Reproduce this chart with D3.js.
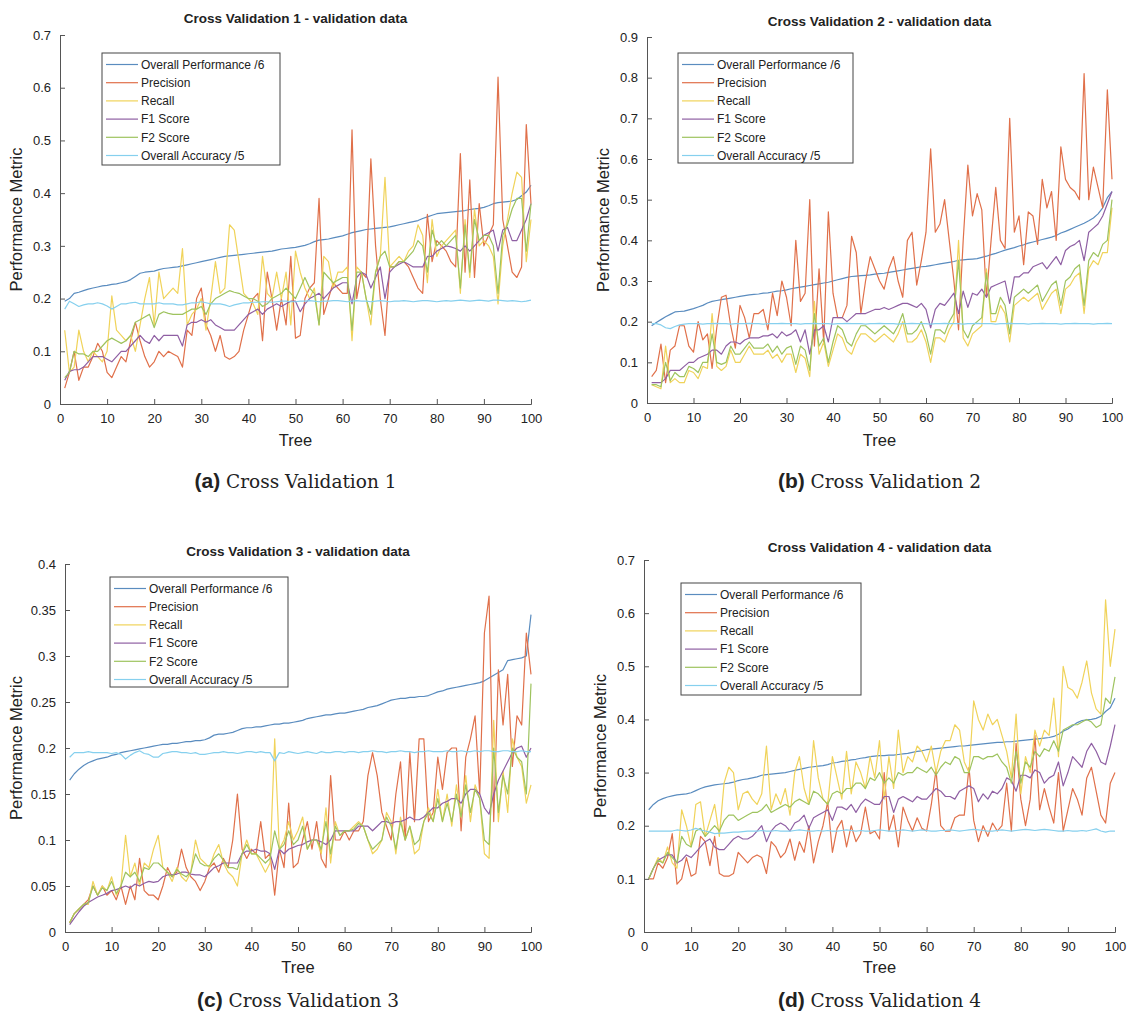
<!DOCTYPE html>
<html>
<head>
<meta charset="utf-8">
<script src="https://cdn.jsdelivr.net/npm/d3@7"></script>
<style>
  body { margin: 0; background: #fff; }
  text { font-family: "Liberation Sans", Arial, Helvetica, sans-serif; fill: #222; }
</style>
</head>
<body>
<div id="chart"></div>
<script>
/* tree index on the x axis, legend names and tick labels */
const trees = d3.range(1, 101);
const seriesNames = ["Overall Performance /6", "Precision", "Recall", "F1 Score", "F2 Score", "Overall Accuracy /5"];
const seriesColors = ["#5a8cbf", "#e0704a", "#f0d35a", "#8f5fa3", "#9ec35e", "#86d0ee"];
const xTicks = [0, 10, 20, 30, 40, 50, 60, 70, 80, 90, 100];
const yTicks1 = [0, 0.1, 0.2, 0.3, 0.4, 0.5, 0.6, 0.7];
const yTicks2 = [0, 0.1, 0.2, 0.3, 0.4, 0.5, 0.6, 0.7, 0.8, 0.9];
const yTicks3 = [0, 0.05, 0.1, 0.15, 0.2, 0.25, 0.3, 0.35, 0.4];
const yTicks4 = [0, 0.1, 0.2, 0.3, 0.4, 0.5, 0.6, 0.7];

/* ---- Cross Validation 1 ---- */
const cv1Perf = [0.195,0.200,0.210,0.212,0.215,0.218,0.220,0.222,0.224,0.225,
  0.227,0.228,0.230,0.232,0.236,0.242,0.248,0.250,0.251,0.252,
  0.255,0.257,0.258,0.259,0.260,0.262,0.264,0.266,0.268,0.270,
  0.272,0.274,0.276,0.278,0.280,0.281,0.282,0.283,0.284,0.285,
  0.286,0.287,0.288,0.289,0.290,0.292,0.294,0.295,0.296,0.297,
  0.299,0.301,0.304,0.308,0.311,0.312,0.313,0.315,0.317,0.319,
  0.322,0.325,0.327,0.329,0.331,0.332,0.333,0.334,0.335,0.336,
  0.338,0.340,0.342,0.344,0.346,0.348,0.352,0.355,0.358,0.361,
  0.362,0.363,0.364,0.365,0.366,0.367,0.369,0.370,0.371,0.373,
  0.376,0.380,0.382,0.383,0.384,0.385,0.388,0.395,0.402,0.415];
const cv1Prec = [0.03,0.06,0.10,0.045,0.07,0.07,0.09,0.115,0.10,0.06,
  0.05,0.07,0.09,0.08,0.12,0.155,0.12,0.09,0.07,0.08,
  0.10,0.09,0.10,0.095,0.09,0.07,0.14,0.13,0.20,0.22,
  0.15,0.13,0.10,0.13,0.09,0.085,0.09,0.10,0.14,0.17,
  0.20,0.21,0.12,0.25,0.20,0.14,0.20,0.15,0.28,0.125,
  0.13,0.20,0.22,0.23,0.39,0.17,0.20,0.23,0.22,0.21,
  0.21,0.52,0.20,0.25,0.24,0.465,0.30,0.20,0.13,0.26,
  0.26,0.27,0.27,0.26,0.24,0.22,0.21,0.36,0.27,0.31,
  0.30,0.29,0.27,0.26,0.475,0.25,0.425,0.24,0.38,0.30,
  0.32,0.34,0.62,0.35,0.30,0.25,0.24,0.26,0.53,0.38];
const cv1Rec = [0.14,0.06,0.07,0.14,0.10,0.08,0.10,0.09,0.08,0.10,
  0.205,0.14,0.13,0.12,0.13,0.10,0.15,0.20,0.24,0.15,
  0.25,0.20,0.21,0.22,0.21,0.295,0.15,0.17,0.18,0.20,
  0.14,0.20,0.27,0.21,0.22,0.34,0.33,0.27,0.21,0.20,
  0.19,0.17,0.28,0.21,0.20,0.25,0.20,0.25,0.15,0.29,
  0.25,0.22,0.20,0.22,0.15,0.28,0.27,0.22,0.25,0.25,
  0.26,0.12,0.26,0.25,0.20,0.15,0.25,0.28,0.43,0.26,
  0.27,0.28,0.27,0.29,0.30,0.34,0.32,0.23,0.35,0.28,
  0.30,0.31,0.32,0.33,0.21,0.35,0.24,0.37,0.30,0.31,
  0.30,0.28,0.19,0.30,0.35,0.40,0.44,0.43,0.27,0.35];
const cv1F1 = [0.045,0.062,0.065,0.065,0.07,0.08,0.09,0.09,0.09,0.085,
  0.08,0.09,0.10,0.10,0.11,0.12,0.13,0.12,0.115,0.13,
  0.12,0.13,0.13,0.13,0.13,0.11,0.15,0.155,0.155,0.16,
  0.155,0.16,0.15,0.145,0.14,0.14,0.14,0.15,0.16,0.17,
  0.175,0.18,0.17,0.18,0.185,0.19,0.185,0.19,0.195,0.195,
  0.175,0.19,0.20,0.205,0.21,0.20,0.21,0.22,0.225,0.23,
  0.23,0.19,0.24,0.25,0.245,0.22,0.24,0.26,0.20,0.25,
  0.26,0.265,0.27,0.265,0.26,0.26,0.26,0.28,0.28,0.29,
  0.295,0.30,0.298,0.295,0.29,0.30,0.29,0.30,0.31,0.32,
  0.325,0.33,0.29,0.33,0.335,0.31,0.31,0.33,0.35,0.38];
const cv1F2 = [0.05,0.06,0.10,0.095,0.095,0.09,0.10,0.10,0.11,0.12,
  0.125,0.12,0.115,0.12,0.13,0.155,0.16,0.165,0.17,0.145,
  0.17,0.175,0.172,0.17,0.17,0.17,0.175,0.18,0.18,0.185,
  0.17,0.19,0.20,0.205,0.21,0.215,0.212,0.21,0.205,0.20,
  0.20,0.195,0.185,0.19,0.20,0.205,0.21,0.22,0.21,0.20,
  0.22,0.24,0.22,0.21,0.15,0.25,0.24,0.23,0.235,0.24,
  0.24,0.14,0.25,0.25,0.20,0.17,0.25,0.28,0.29,0.26,
  0.26,0.27,0.27,0.28,0.29,0.31,0.30,0.25,0.33,0.30,
  0.31,0.30,0.31,0.32,0.22,0.34,0.25,0.35,0.31,0.32,
  0.32,0.30,0.21,0.32,0.34,0.37,0.39,0.39,0.29,0.38];
const cv1Acc = [0.180,0.195,0.190,0.185,0.188,0.190,0.190,0.192,0.190,0.186,
  0.180,0.185,0.190,0.190,0.192,0.193,0.190,0.190,0.190,0.190,
  0.192,0.190,0.190,0.190,0.188,0.188,0.190,0.192,0.192,0.194,
  0.192,0.190,0.190,0.190,0.188,0.185,0.188,0.190,0.192,0.192,
  0.193,0.193,0.194,0.194,0.193,0.194,0.195,0.195,0.194,0.194,
  0.195,0.195,0.196,0.195,0.194,0.195,0.195,0.196,0.196,0.195,
  0.194,0.195,0.196,0.195,0.195,0.194,0.195,0.196,0.195,0.194,
  0.195,0.195,0.196,0.195,0.194,0.195,0.196,0.196,0.195,0.194,
  0.195,0.196,0.195,0.196,0.197,0.196,0.195,0.196,0.197,0.196,
  0.195,0.197,0.197,0.196,0.195,0.196,0.195,0.194,0.195,0.197];

/* ---- Cross Validation 2 ---- */
const cv2Perf = [0.190,0.198,0.205,0.212,0.218,0.224,0.225,0.226,0.229,0.232,
  0.236,0.240,0.246,0.250,0.252,0.254,0.256,0.258,0.260,0.262,
  0.264,0.266,0.267,0.268,0.270,0.271,0.273,0.275,0.276,0.278,
  0.281,0.283,0.285,0.287,0.289,0.291,0.293,0.295,0.297,0.300,
  0.303,0.306,0.309,0.311,0.312,0.313,0.314,0.315,0.317,0.318,
  0.319,0.321,0.323,0.325,0.327,0.329,0.331,0.333,0.335,0.336,
  0.338,0.340,0.342,0.344,0.346,0.348,0.351,0.352,0.353,0.354,
  0.355,0.358,0.361,0.365,0.368,0.372,0.376,0.379,0.382,0.386,
  0.389,0.393,0.396,0.399,0.402,0.405,0.408,0.412,0.418,0.422,
  0.427,0.432,0.437,0.442,0.448,0.455,0.465,0.480,0.505,0.520];
const cv2Prec = [0.065,0.08,0.145,0.05,0.13,0.14,0.19,0.19,0.14,0.125,
  0.20,0.155,0.17,0.085,0.185,0.26,0.265,0.19,0.135,0.24,
  0.21,0.16,0.22,0.22,0.23,0.18,0.27,0.215,0.30,0.26,
  0.19,0.40,0.25,0.27,0.50,0.14,0.33,0.15,0.47,0.27,
  0.21,0.21,0.24,0.41,0.37,0.22,0.30,0.36,0.33,0.30,
  0.28,0.33,0.36,0.30,0.26,0.40,0.42,0.29,0.35,0.42,
  0.625,0.42,0.44,0.50,0.40,0.30,0.18,0.40,0.585,0.46,
  0.515,0.475,0.26,0.40,0.53,0.40,0.38,0.70,0.42,0.46,
  0.34,0.47,0.46,0.39,0.55,0.48,0.52,0.40,0.63,0.55,
  0.53,0.52,0.50,0.81,0.50,0.58,0.53,0.48,0.77,0.55];
const cv2Rec = [0.045,0.04,0.035,0.14,0.05,0.06,0.05,0.05,0.08,0.075,
  0.06,0.09,0.085,0.22,0.09,0.08,0.09,0.13,0.10,0.10,
  0.12,0.14,0.12,0.12,0.12,0.13,0.11,0.12,0.10,0.12,
  0.12,0.075,0.12,0.11,0.065,0.25,0.12,0.15,0.09,0.13,
  0.17,0.16,0.13,0.12,0.15,0.17,0.17,0.16,0.15,0.16,
  0.17,0.16,0.15,0.17,0.20,0.15,0.15,0.16,0.18,0.15,
  0.10,0.16,0.16,0.15,0.18,0.20,0.40,0.16,0.14,0.17,
  0.18,0.19,0.33,0.20,0.20,0.24,0.22,0.15,0.24,0.25,
  0.26,0.25,0.26,0.27,0.23,0.25,0.27,0.28,0.22,0.28,
  0.29,0.31,0.32,0.22,0.33,0.35,0.34,0.37,0.37,0.48];
const cv2F1 = [0.05,0.05,0.05,0.06,0.08,0.08,0.08,0.09,0.10,0.10,
  0.11,0.115,0.12,0.13,0.13,0.12,0.14,0.15,0.15,0.145,
  0.155,0.16,0.16,0.16,0.165,0.165,0.17,0.16,0.175,0.165,
  0.17,0.18,0.15,0.18,0.12,0.18,0.18,0.19,0.15,0.21,
  0.21,0.21,0.20,0.21,0.22,0.22,0.22,0.225,0.23,0.23,
  0.235,0.23,0.235,0.24,0.245,0.245,0.24,0.235,0.245,0.23,
  0.185,0.23,0.245,0.24,0.255,0.27,0.22,0.275,0.235,0.27,
  0.265,0.28,0.26,0.285,0.29,0.295,0.30,0.245,0.31,0.31,
  0.32,0.32,0.335,0.34,0.345,0.33,0.345,0.36,0.34,0.375,
  0.385,0.39,0.40,0.35,0.42,0.43,0.44,0.46,0.49,0.52];
const cv2F2 = [0.045,0.045,0.04,0.10,0.055,0.075,0.065,0.065,0.09,0.085,
  0.075,0.10,0.10,0.17,0.10,0.095,0.10,0.14,0.12,0.12,
  0.135,0.15,0.135,0.135,0.135,0.145,0.125,0.14,0.12,0.135,
  0.14,0.095,0.14,0.13,0.08,0.22,0.14,0.16,0.10,0.15,
  0.19,0.18,0.15,0.14,0.17,0.19,0.19,0.18,0.17,0.18,
  0.19,0.18,0.17,0.19,0.22,0.17,0.17,0.18,0.20,0.17,
  0.12,0.18,0.18,0.17,0.20,0.22,0.35,0.18,0.16,0.19,
  0.20,0.21,0.32,0.22,0.22,0.26,0.24,0.17,0.26,0.27,
  0.28,0.27,0.28,0.29,0.25,0.27,0.29,0.30,0.24,0.30,
  0.31,0.33,0.34,0.24,0.35,0.37,0.36,0.39,0.40,0.50];
const cv2Acc = [0.195,0.195,0.192,0.185,0.183,0.188,0.192,0.194,0.195,0.195,
  0.195,0.194,0.195,0.195,0.196,0.195,0.195,0.194,0.195,0.195,
  0.195,0.196,0.195,0.195,0.194,0.195,0.195,0.195,0.196,0.195,
  0.195,0.195,0.194,0.195,0.195,0.196,0.195,0.195,0.195,0.194,
  0.195,0.195,0.196,0.195,0.195,0.195,0.194,0.195,0.195,0.196,
  0.195,0.195,0.195,0.194,0.195,0.195,0.196,0.195,0.195,0.195,
  0.194,0.195,0.195,0.196,0.195,0.195,0.195,0.194,0.195,0.195,
  0.196,0.195,0.195,0.195,0.194,0.195,0.195,0.196,0.195,0.195,
  0.195,0.194,0.195,0.195,0.196,0.195,0.195,0.195,0.194,0.195,
  0.195,0.196,0.195,0.195,0.195,0.194,0.195,0.195,0.196,0.195];

/* ---- Cross Validation 3 ---- */
const cv3Perf = [0.165,0.172,0.177,0.181,0.184,0.186,0.188,0.189,0.190,0.192,
  0.193,0.195,0.196,0.197,0.198,0.199,0.200,0.201,0.202,0.203,
  0.204,0.204,0.205,0.205,0.206,0.207,0.207,0.208,0.208,0.209,
  0.211,0.214,0.215,0.215,0.216,0.217,0.219,0.221,0.222,0.222,
  0.223,0.223,0.224,0.225,0.226,0.226,0.227,0.227,0.228,0.229,
  0.230,0.232,0.233,0.234,0.235,0.236,0.236,0.237,0.238,0.238,
  0.239,0.240,0.241,0.242,0.244,0.245,0.246,0.248,0.250,0.252,
  0.253,0.254,0.254,0.255,0.255,0.256,0.256,0.257,0.259,0.261,
  0.262,0.264,0.265,0.266,0.267,0.268,0.269,0.270,0.271,0.273,
  0.276,0.279,0.282,0.285,0.295,0.296,0.297,0.298,0.300,0.345];
const cv3Prec = [0.01,0.02,0.025,0.03,0.035,0.05,0.04,0.05,0.04,0.045,
  0.035,0.05,0.03,0.05,0.035,0.08,0.045,0.04,0.04,0.035,
  0.05,0.07,0.06,0.065,0.09,0.07,0.06,0.055,0.045,0.055,
  0.07,0.075,0.065,0.08,0.07,0.10,0.15,0.09,0.08,0.09,
  0.085,0.12,0.08,0.085,0.04,0.09,0.07,0.14,0.07,0.075,
  0.10,0.12,0.09,0.12,0.08,0.07,0.17,0.10,0.10,0.11,
  0.10,0.11,0.11,0.12,0.17,0.195,0.17,0.13,0.115,0.10,
  0.15,0.185,0.10,0.195,0.12,0.21,0.21,0.12,0.13,0.19,
  0.155,0.195,0.20,0.20,0.11,0.19,0.21,0.235,0.15,0.325,
  0.365,0.12,0.285,0.225,0.28,0.18,0.235,0.225,0.325,0.28];
const cv3Rec = [0.01,0.02,0.025,0.03,0.03,0.055,0.04,0.05,0.045,0.06,
  0.04,0.05,0.105,0.06,0.075,0.05,0.075,0.07,0.09,0.105,
  0.07,0.065,0.055,0.07,0.06,0.055,0.065,0.10,0.08,0.075,
  0.07,0.085,0.095,0.075,0.065,0.06,0.05,0.085,0.10,0.085,
  0.085,0.075,0.065,0.075,0.21,0.09,0.10,0.12,0.10,0.11,
  0.125,0.09,0.10,0.10,0.085,0.135,0.075,0.12,0.105,0.11,
  0.11,0.115,0.12,0.115,0.10,0.085,0.09,0.10,0.13,0.12,
  0.085,0.125,0.10,0.115,0.085,0.09,0.12,0.135,0.12,0.155,
  0.12,0.15,0.115,0.16,0.125,0.17,0.12,0.16,0.145,0.085,
  0.08,0.23,0.12,0.175,0.13,0.21,0.19,0.18,0.14,0.16];
const cv3F1 = [0.008,0.015,0.022,0.028,0.032,0.035,0.038,0.040,0.042,0.045,
  0.046,0.048,0.050,0.048,0.052,0.050,0.053,0.055,0.054,0.055,
  0.060,0.062,0.062,0.063,0.065,0.065,0.063,0.062,0.062,0.060,
  0.065,0.070,0.072,0.075,0.075,0.075,0.075,0.085,0.088,0.088,
  0.090,0.088,0.088,0.085,0.068,0.090,0.085,0.090,0.092,0.094,
  0.095,0.098,0.100,0.100,0.098,0.095,0.100,0.110,0.110,0.110,
  0.110,0.110,0.115,0.115,0.115,0.110,0.115,0.120,0.120,0.118,
  0.120,0.120,0.122,0.125,0.122,0.122,0.125,0.130,0.135,0.135,
  0.140,0.142,0.145,0.145,0.140,0.150,0.155,0.155,0.150,0.135,
  0.128,0.150,0.165,0.175,0.185,0.195,0.200,0.202,0.190,0.200];
const cv3F2 = [0.01,0.02,0.025,0.03,0.032,0.05,0.04,0.048,0.045,0.055,
  0.042,0.05,0.065,0.06,0.065,0.055,0.07,0.068,0.075,0.075,
  0.07,0.065,0.06,0.068,0.063,0.06,0.065,0.085,0.075,0.072,
  0.072,0.08,0.085,0.078,0.07,0.07,0.068,0.085,0.095,0.085,
  0.085,0.08,0.075,0.08,0.11,0.09,0.095,0.11,0.095,0.10,
  0.115,0.09,0.10,0.10,0.09,0.12,0.085,0.115,0.105,0.11,
  0.11,0.112,0.118,0.115,0.10,0.09,0.095,0.10,0.125,0.115,
  0.09,0.12,0.10,0.115,0.095,0.10,0.12,0.13,0.12,0.145,
  0.12,0.14,0.12,0.15,0.125,0.16,0.13,0.155,0.145,0.10,
  0.095,0.20,0.13,0.17,0.15,0.20,0.19,0.185,0.15,0.27];
const cv3Acc = [0.190,0.195,0.195,0.195,0.196,0.195,0.195,0.195,0.195,0.194,
  0.195,0.193,0.188,0.192,0.195,0.197,0.194,0.193,0.190,0.190,
  0.194,0.195,0.196,0.196,0.195,0.195,0.194,0.195,0.193,0.193,
  0.194,0.195,0.195,0.196,0.195,0.195,0.194,0.195,0.196,0.196,
  0.195,0.196,0.195,0.195,0.186,0.195,0.194,0.196,0.195,0.194,
  0.195,0.196,0.195,0.194,0.196,0.195,0.195,0.196,0.196,0.195,
  0.196,0.196,0.195,0.196,0.196,0.197,0.196,0.196,0.195,0.196,
  0.196,0.197,0.196,0.196,0.195,0.196,0.196,0.197,0.196,0.196,
  0.196,0.197,0.196,0.196,0.197,0.196,0.196,0.197,0.196,0.197,
  0.197,0.196,0.196,0.197,0.197,0.196,0.196,0.197,0.196,0.196];

/* ---- Cross Validation 4 ---- */
const cv4Perf = [0.230,0.240,0.247,0.251,0.254,0.256,0.258,0.259,0.260,0.262,
  0.266,0.270,0.273,0.275,0.277,0.278,0.279,0.280,0.282,0.285,
  0.287,0.288,0.290,0.292,0.295,0.296,0.297,0.298,0.299,0.300,
  0.302,0.304,0.306,0.308,0.310,0.311,0.312,0.313,0.315,0.318,
  0.319,0.321,0.322,0.324,0.325,0.327,0.328,0.330,0.331,0.332,
  0.332,0.333,0.333,0.334,0.335,0.336,0.338,0.340,0.341,0.343,
  0.344,0.345,0.346,0.347,0.348,0.349,0.350,0.350,0.351,0.352,
  0.353,0.354,0.355,0.356,0.357,0.357,0.358,0.358,0.359,0.360,
  0.361,0.362,0.363,0.364,0.365,0.366,0.368,0.372,0.378,0.382,
  0.388,0.394,0.398,0.399,0.400,0.402,0.406,0.415,0.422,0.440];
const cv4Prec = [0.10,0.10,0.13,0.12,0.14,0.185,0.09,0.10,0.14,0.105,
  0.11,0.18,0.17,0.125,0.18,0.11,0.105,0.105,0.11,0.15,
  0.14,0.13,0.14,0.145,0.14,0.11,0.17,0.16,0.14,0.15,
  0.175,0.135,0.17,0.15,0.20,0.13,0.17,0.20,0.245,0.15,
  0.195,0.21,0.16,0.20,0.17,0.185,0.235,0.185,0.19,0.175,
  0.30,0.19,0.22,0.16,0.235,0.21,0.19,0.215,0.195,0.19,
  0.24,0.305,0.20,0.19,0.19,0.215,0.22,0.22,0.31,0.21,
  0.17,0.20,0.18,0.205,0.19,0.20,0.28,0.19,0.355,0.25,
  0.20,0.25,0.37,0.23,0.27,0.235,0.205,0.30,0.19,0.23,
  0.27,0.25,0.22,0.29,0.31,0.265,0.22,0.205,0.28,0.30];
const cv4Rec = [0.10,0.12,0.14,0.13,0.16,0.13,0.12,0.23,0.20,0.16,
  0.24,0.245,0.18,0.21,0.24,0.18,0.28,0.31,0.30,0.23,
  0.26,0.265,0.25,0.24,0.26,0.35,0.23,0.26,0.24,0.27,
  0.22,0.30,0.33,0.27,0.24,0.36,0.29,0.25,0.24,0.33,
  0.29,0.25,0.34,0.26,0.32,0.30,0.27,0.33,0.29,0.36,
  0.25,0.33,0.27,0.38,0.30,0.33,0.32,0.35,0.34,0.32,
  0.35,0.30,0.34,0.36,0.36,0.39,0.38,0.32,0.30,0.435,
  0.40,0.38,0.41,0.39,0.40,0.37,0.34,0.29,0.41,0.26,
  0.33,0.30,0.38,0.35,0.38,0.37,0.44,0.33,0.50,0.46,
  0.455,0.44,0.47,0.51,0.45,0.42,0.41,0.625,0.50,0.57];
const cv4F1 = [0.10,0.12,0.135,0.14,0.145,0.145,0.13,0.135,0.145,0.14,
  0.15,0.16,0.17,0.175,0.16,0.155,0.155,0.165,0.175,0.18,
  0.175,0.175,0.18,0.19,0.20,0.17,0.19,0.20,0.205,0.20,
  0.19,0.205,0.21,0.22,0.195,0.215,0.22,0.225,0.23,0.21,
  0.235,0.235,0.23,0.24,0.225,0.24,0.25,0.245,0.24,0.24,
  0.255,0.255,0.225,0.25,0.255,0.25,0.245,0.255,0.25,0.25,
  0.26,0.27,0.265,0.255,0.255,0.25,0.265,0.27,0.275,0.27,
  0.245,0.26,0.25,0.265,0.26,0.27,0.29,0.285,0.265,0.295,
  0.295,0.29,0.305,0.30,0.28,0.29,0.295,0.32,0.275,0.30,
  0.33,0.32,0.31,0.34,0.355,0.34,0.32,0.315,0.35,0.39];
const cv4F2 = [0.10,0.12,0.135,0.13,0.15,0.14,0.13,0.18,0.165,0.16,
  0.19,0.195,0.18,0.19,0.20,0.19,0.21,0.22,0.22,0.21,
  0.215,0.22,0.225,0.225,0.23,0.24,0.225,0.23,0.235,0.24,
  0.235,0.245,0.25,0.245,0.24,0.265,0.26,0.25,0.24,0.26,
  0.265,0.26,0.27,0.27,0.28,0.28,0.27,0.29,0.285,0.30,
  0.28,0.29,0.28,0.30,0.295,0.30,0.30,0.31,0.305,0.30,
  0.31,0.295,0.31,0.32,0.315,0.33,0.325,0.30,0.30,0.33,
  0.33,0.325,0.33,0.33,0.335,0.32,0.31,0.28,0.34,0.28,
  0.32,0.31,0.34,0.33,0.345,0.34,0.36,0.34,0.38,0.385,
  0.39,0.39,0.395,0.40,0.395,0.385,0.39,0.44,0.43,0.48];
const cv4Acc = [0.190,0.190,0.190,0.190,0.190,0.190,0.192,0.191,0.190,0.192,
  0.195,0.192,0.190,0.188,0.185,0.186,0.186,0.187,0.188,0.188,
  0.189,0.190,0.190,0.190,0.191,0.190,0.190,0.191,0.190,0.190,
  0.190,0.191,0.192,0.191,0.190,0.190,0.191,0.190,0.191,0.190,
  0.190,0.191,0.192,0.191,0.190,0.191,0.190,0.190,0.191,0.192,
  0.191,0.190,0.190,0.191,0.192,0.191,0.190,0.191,0.192,0.191,
  0.190,0.190,0.191,0.191,0.192,0.191,0.190,0.191,0.192,0.193,
  0.192,0.191,0.190,0.190,0.191,0.192,0.191,0.190,0.191,0.192,
  0.193,0.192,0.191,0.192,0.193,0.192,0.191,0.190,0.190,0.191,
  0.190,0.190,0.191,0.190,0.192,0.194,0.190,0.188,0.190,0.190];

/* panel layout (pixel boxes of each axes) */
const panels = [
  { tag: "(a)", caption: "Cross Validation 1", title: "Cross Validation 1 - validation data",
    yMax: 0.7, yTicks: yTicks1, series: [cv1Perf, cv1Prec, cv1Rec, cv1F1, cv1F2, cv1Acc],
    left: 60, right: 531, top: 35, bottom: 404, titleY: 23, yLabelX: 22, xLabelY: 446, capY: 488,
    leg: { x: 102, y: 53, w: 178, h: 112 } },
  { tag: "(b)", caption: "Cross Validation 2", title: "Cross Validation 2 - validation data",
    yMax: 0.9, yTicks: yTicks2, series: [cv2Perf, cv2Prec, cv2Rec, cv2F1, cv2F2, cv2Acc],
    left: 647, right: 1112, top: 37, bottom: 403, titleY: 26, yLabelX: 609, xLabelY: 446, capY: 488,
    leg: { x: 678, y: 53, w: 175, h: 110 } },
  { tag: "(c)", caption: "Cross Validation 3", title: "Cross Validation 3 - validation data",
    yMax: 0.4, yTicks: yTicks3, series: [cv3Perf, cv3Prec, cv3Rec, cv3F1, cv3F2, cv3Acc],
    left: 65, right: 531, top: 564, bottom: 932, titleY: 556, yLabelX: 22, xLabelY: 973, capY: 1007,
    leg: { x: 110, y: 577, w: 178, h: 110 } },
  { tag: "(d)", caption: "Cross Validation 4", title: "Cross Validation 4 - validation data",
    yMax: 0.7, yTicks: yTicks4, series: [cv4Perf, cv4Prec, cv4Rec, cv4F1, cv4F2, cv4Acc],
    left: 644, right: 1115, top: 560, bottom: 932, titleY: 552, yLabelX: 606, xLabelY: 973, capY: 1007,
    leg: { x: 681, y: 583, w: 180, h: 112 } }
];

const svg = d3.select("#chart").append("svg")
  .attr("width", 1129).attr("height", 1021)
  .style("background", "#fff");

const axisColor = "#555";

panels.forEach(function(p) {
  const x = d3.scaleLinear().domain([0, 100]).range([p.left, p.right]);
  const y = d3.scaleLinear().domain([0, p.yMax]).range([p.bottom, p.top]);
  const g = svg.append("g");

  /* lines, drawn in MATLAB plot order */
  const line = d3.line().x((d, i) => x(trees[i])).y(d => y(d));
  p.series.forEach(function(vals, k) {
    g.append("path")
      .attr("d", line(vals))
      .attr("fill", "none")
      .attr("stroke", seriesColors[k])
      .attr("stroke-width", 1.2)
      .attr("stroke-linejoin", "round");
  });

  /* axes with inward ticks */
  const xAxis = d3.axisBottom(x).tickValues(xTicks).tickSize(-5).tickPadding(10).tickFormat(d3.format("d"));
  const yAxis = d3.axisLeft(y).tickValues(p.yTicks).tickSize(-5).tickPadding(9).tickFormat(d3.format("~g"));
  const gx = g.append("g").attr("transform", `translate(0,${p.bottom})`).call(xAxis);
  const gy = g.append("g").attr("transform", `translate(${p.left},0)`).call(yAxis);
  [gx, gy].forEach(function(a) {
    a.select(".domain").attr("stroke", axisColor);
    a.selectAll(".tick line").attr("stroke", axisColor);
    a.selectAll(".tick text").style("font-size", "13px").attr("fill", "#222");
  });

  /* title and axis labels */
  g.append("text").attr("x", (p.left + p.right) / 2).attr("y", p.titleY)
    .attr("text-anchor", "middle").style("font-size", "13.5px").style("font-weight", "bold")
    .text(p.title);
  g.append("text").attr("x", (p.left + p.right) / 2).attr("y", p.xLabelY)
    .attr("text-anchor", "middle").style("font-size", "16.5px").text("Tree");
  g.append("text")
    .attr("transform", `translate(${p.yLabelX},${(p.top + p.bottom) / 2}) rotate(-90)`)
    .attr("text-anchor", "middle").style("font-size", "16.5px").text("Performance Metric");

  /* legend */
  const lg = g.append("g").attr("transform", `translate(${p.leg.x},${p.leg.y})`);
  lg.append("rect").attr("width", p.leg.w).attr("height", p.leg.h)
    .attr("fill", "#fff").attr("stroke", "#444").attr("stroke-width", 1);
  seriesNames.forEach(function(name, k) {
    const cy = 11.5 + k * 18.2;
    lg.append("line").attr("x1", 4).attr("x2", 36).attr("y1", cy).attr("y2", cy)
      .attr("stroke", seriesColors[k]).attr("stroke-width", 1.2);
    lg.append("text").attr("x", 39).attr("y", cy + 4.3).style("font-size", "12px").text(name);
  });

  /* caption under the panel */
  const cap = svg.append("text").attr("x", (p.left + p.right) / 2).attr("y", p.capY)
    .attr("text-anchor", "middle");
  cap.append("tspan").style("font-weight", "bold").style("font-size", "21px")
    .style("font-family", "'Liberation Sans', Arial, sans-serif").text(p.tag + " ");
  cap.append("tspan").style("font-size", "18.5px")
    .style("font-family", "'DejaVu Serif', 'Liberation Serif', serif").text(p.caption);
});
</script>
</body>
</html>
